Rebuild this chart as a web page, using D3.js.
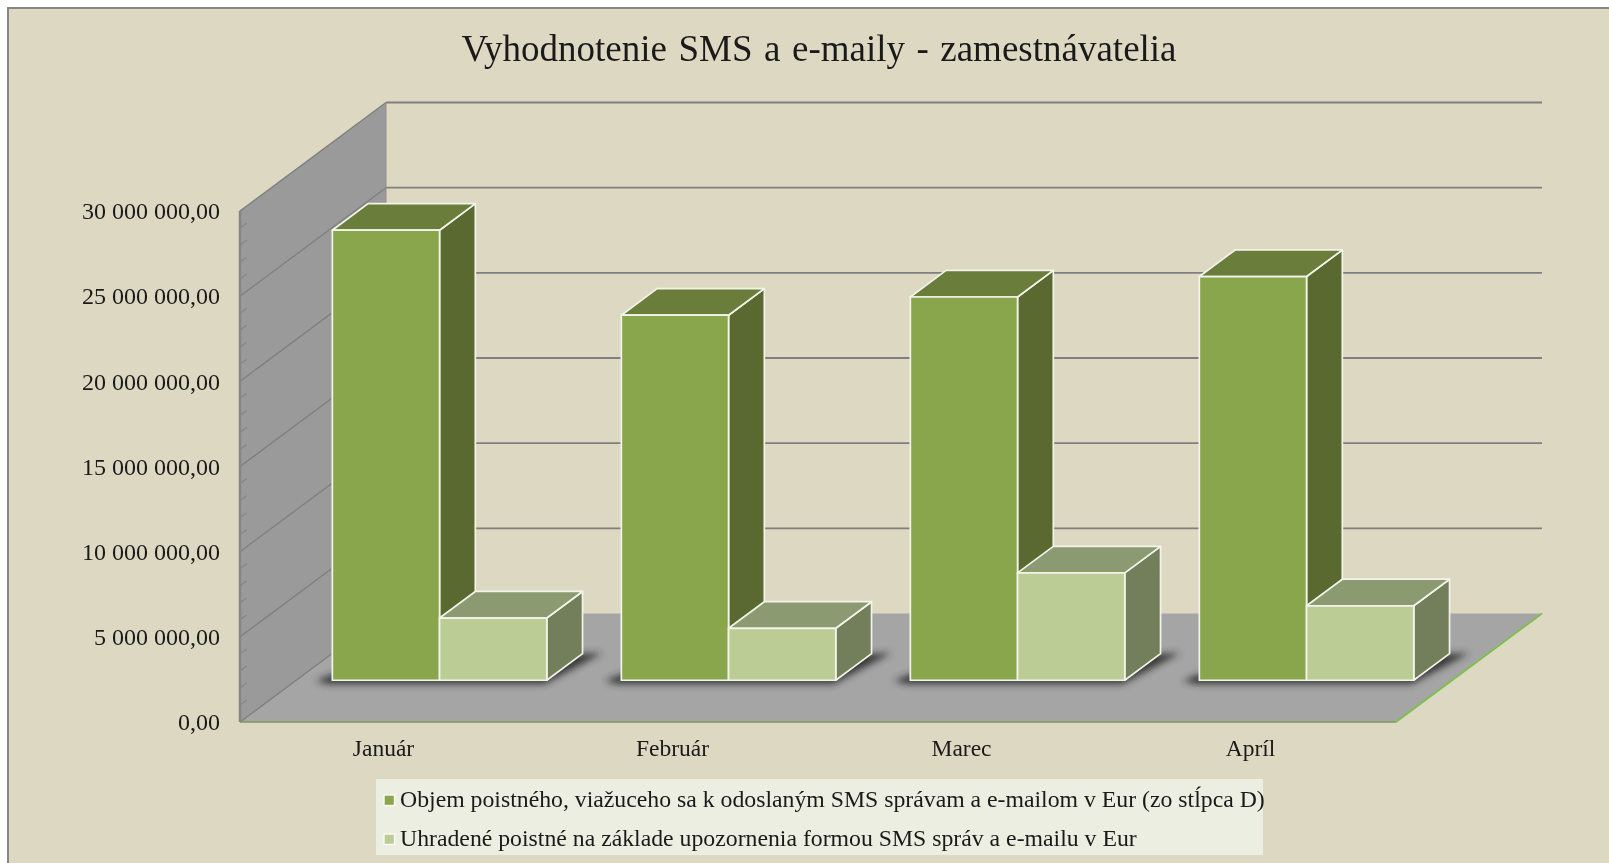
<!DOCTYPE html>
<html><head><meta charset="utf-8">
<script src="https://cdnjs.cloudflare.com/ajax/libs/d3/7.8.5/d3.min.js"></script>
<style>html,body{margin:0;padding:0;background:#fff;overflow:hidden}svg{display:block;filter:blur(0.45px)}text{font-family:"Liberation Serif",serif;fill:#1a1a1a}</style>
</head><body><svg id="c" width="1609" height="863"></svg>
<script>
const titleText = "Vyhodnotenie  SMS  a  e-maily  -  zamestnávatelia";
const categories = ["Január", "Február", "Marec", "Apríl"];
const seriesNames = [
  "Objem poistného, viažuceho sa k odoslaným SMS správam a e-mailom v Eur (zo stĺpca D)",
  "Uhradené poistné na základe upozornenia formou SMS správ a e-mailu v Eur"
];
const volumeValues = [26420000, 21430000, 22500000, 23700000];
const paidValues = [3650000, 3050000, 6300000, 4370000];
const seriesValues = [volumeValues, paidValues];
const majorTicks = [0, 5000000, 10000000, 15000000, 20000000, 25000000, 30000000];
const minorTicks = d3.range(0, 30000001, 1000000);
const frontFill = ["#8aa64d", "#bccc95"];
const sideFill = ["#59692f", "#737f5b"];
const topFill = ["#6b7d3a", "#8b9a70"];

const svg = d3.select("#c");
const X0 = 240, W = 1156;
const x = d3.scaleBand().domain(categories).range([0, W]);
const inner = d3.scaleBand().domain([0, 1]).range([x.bandwidth() * 0.125, x.bandwidth() * 0.867]);
const y = d3.scaleLinear().domain([0, 30000000]).range([722, 211]);
const dx = d3.scaleLinear().domain([0, 1]).range([0, 146]);
const dy = d3.scaleLinear().domain([0, 1]).range([0, -108.5]);
const P = (px, v, d) => [X0 + px + dx(d), y(v) + dy(d)];
const path = pts => "M" + pts.map(p => p.join(",")).join("L") + "Z";
const line = pts => "M" + pts.map(p => p.join(",")).join("L");

const defs = svg.append("defs");
defs.append("filter").attr("id", "blur").attr("x", "-20%").attr("y", "-50%").attr("width", "140%").attr("height", "200%")
  .append("feGaussianBlur").attr("stdDeviation", 3.5);

// frame
svg.append("rect").attr("x", 8).attr("y", 8).attr("width", 1700).attr("height", 1000)
  .attr("fill", "#ddd8c2").attr("stroke", "#868686").attr("stroke-width", 2);

// title
svg.append("text").attr("x", 819).attr("y", 61).attr("text-anchor", "middle")
  .attr("font-size", 37).attr("word-spacing", -3.5).style("white-space", "pre").attr("fill", "#111").text(titleText);

// left wall and floor
svg.append("path").attr("d", path([P(0, 30000000, 0), P(0, 30000000, 1), P(0, 0, 1), P(0, 0, 0)])).attr("fill", "#9a9a9a");
svg.append("path").attr("d", path([P(0, 0, 0), P(0, 0, 1), P(W, 0, 1), P(W, 0, 0)])).attr("fill", "#a5a5a5");

// gridlines
const grid = svg.append("g").attr("fill", "none").attr("stroke", "#7f7f7f").attr("stroke-width", 1.8);
majorTicks.forEach(t => {
  if (t > 0) grid.append("path").attr("d", line([P(0, t, 1), P(W, t, 1)]));
  grid.append("path").attr("d", line([P(0, t, 0), P(0, t, 1)])).attr("stroke-width", 1.3);
});
grid.append("path").attr("d", line([P(0, 30000000, 1), P(0, 0, 1)])).attr("stroke", "#8f8f8f").attr("stroke-width", 1);
// minor ticks + value axis line
minorTicks.forEach(t => {
  svg.append("path").attr("d", line([P(0, t, 0), P(0, t, 0.045)])).attr("stroke", "#858585").attr("stroke-width", 1.2);
});
svg.append("path").attr("d", line([P(0, 30000000, 0), P(0, 0, 0)])).attr("stroke", "#868686").attr("stroke-width", 2.5);
// floor edges
svg.append("path").attr("d", line([P(0, 0, 0), P(W, 0, 0)])).attr("stroke", "#7f9a5a").attr("stroke-width", 1.6).attr("fill", "none");
svg.append("path").attr("d", line([P(W, 0, 0), P(W, 0, 1)])).attr("stroke", "#7cc04a").attr("stroke-width", 1.8).attr("fill", "none");

// bars
const D0 = 0.385, D1 = 0.63;
const bw = inner.bandwidth();
const shadows = svg.append("g").attr("filter", "url(#blur)");
categories.forEach(c => {
  const a = x(c) + inner(0), b = x(c) + inner(1) + bw;
  shadows.append("path").attr("fill", "#2e2e2e").attr("opacity", 0.9)
    .attr("d", path([P(a - 16, 0, D0 - 0.005), P(a, 0, D0 - 0.035), P(b + 3, 0, D0 - 0.035), P(b + 19, 0, D1 + 0.005), P(b, 0, D1), P(a, 0, D0 + 0.11)]));
});
const bars = svg.append("g").attr("stroke", "#f2f4ea").attr("stroke-width", 1.7).attr("stroke-linejoin", "round");
categories.forEach((c, i) => {
  seriesValues.forEach((vals, s) => {
    const v = vals[i], a = x(c) + inner(s), b = a + bw;
    bars.append("path").attr("fill", sideFill[s]).attr("d", path([P(b, 0, D0), P(b, 0, D1), P(b, v, D1), P(b, v, D0)]));
    bars.append("path").attr("fill", topFill[s]).attr("d", path([P(a, v, D0), P(a, v, D1), P(b, v, D1), P(b, v, D0)]));
    bars.append("path").attr("fill", frontFill[s]).attr("d", path([P(a, 0, D0), P(b, 0, D0), P(b, v, D0), P(a, v, D0)]));
  });
});

// axes
const fmt = d3.formatLocale({decimal: ",", thousands: " ", grouping: [3], currency: ["", ""]}).format(",.2f");
const yAxis = d3.axisLeft(y).tickValues(majorTicks).tickFormat(fmt).tickSize(0).tickPadding(0);
const gy = svg.append("g").attr("transform", "translate(220,0)").call(yAxis);
gy.select(".domain").remove();
gy.selectAll("text").attr("font-size", 24).attr("font-family", '"Liberation Serif",serif').attr("dy", "0.32em");
const xAxis = d3.axisBottom(x).tickSize(0).tickPadding(0);
const gx = svg.append("g").attr("transform", `translate(${X0 - 1},739)`).call(xAxis);
gx.select(".domain").remove();
gx.selectAll("text").attr("font-size", 23.5).attr("font-family", '"Liberation Serif",serif').attr("dy", "0.71em");

// legend
svg.append("rect").attr("x", 376).attr("y", 779).attr("width", 887).attr("height", 76).attr("fill", "#ebeee0");
seriesNames.forEach((n, i) => {
  const yy = [795, 834][i];
  svg.append("rect").attr("x", 384).attr("y", yy).attr("width", 10.5).attr("height", 10.5)
    .attr("fill", frontFill[i]).attr("stroke", "#fbfcf7").attr("stroke-width", 1.4);
  svg.append("text").attr("x", 400).attr("y", [806.5, 846][i]).attr("font-size", 23.75).text(n);
});
</script></body></html>
